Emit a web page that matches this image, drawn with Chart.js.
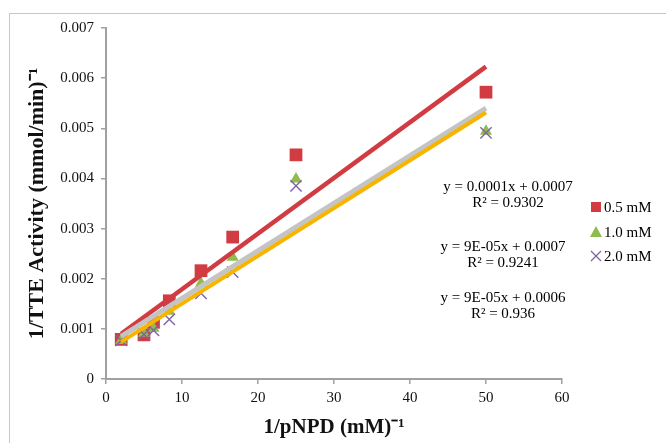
<!DOCTYPE html>
<html>
<head>
<meta charset="utf-8">
<script src="https://cdn.jsdelivr.net/npm/chart.js@4.4.0/dist/chart.umd.min.js"></script>
<style>
  html, body { margin: 0; padding: 0; background: #fff; }
  #wrap { position: relative; width: 666px; height: 443px; overflow: hidden; }
  #frame { position: absolute; left: 9px; top: 13px; width: 700px; height: 500px; border: 1px solid #c8c8c8; }
  #chart { position: absolute; left: 0; top: 0; }
</style>
</head>
<body>
<div id="wrap">
  <div id="frame"></div>
  <canvas id="chart" width="666" height="443"></canvas>
</div>
<script>
// data
var xValues = [2, 5, 6.25, 8.33, 12.5, 16.67, 25, 50];
var series05 = [0.00079, 0.00088, 0.00113, 0.00156, 0.00216, 0.00283, 0.00447, 0.00572];
var series10 = [0.00077, 0.00091, 0.00101, 0.00135, 0.00191, 0.00243, 0.00399, 0.00494];
var series20 = [0.00077, 0.00089, 0.00097, 0.00119, 0.00171, 0.00213, 0.00385, 0.00491];
var seriesNames = ['0.5 mM', '1.0 mM', '2.0 mM'];

// trendlines (as drawn in the picture)
var trendSlopes = [0.000111, 0.0000948, 0.0000953];
var trendIntercepts = [0.00068, 0.00066, 0.00055];
var trendRange = [2, 50];
var equations = ['y = 0.0001x + 0.0007', 'y = 9E-05x + 0.0007', 'y = 9E-05x + 0.0006'];
var rSquared = ['R² = 0.9302', 'R² = 0.9241', 'R² = 0.936'];

var xTicks = [0, 10, 20, 30, 40, 50, 60];
var yTicks = [0, 0.001, 0.002, 0.003, 0.004, 0.005, 0.006, 0.007];

var red = '#d13b42';
var green = '#8fbc4b';
var purple = '#7f63a5';
var gray = '#c4c4c4';
var yellow = '#f7b500';
var serif = '"Liberation Serif", "Times New Roman", serif';

function toPoints(ys) {
	return xValues.map(function(x, i){ return {x: x, y: ys[i]}; });
}
function trend(i) {
	return trendRange.map(function(x){ return {x: x, y: trendSlopes[i] * x + trendIntercepts[i]}; });
}

var labelPlugin = {
	id: 'labels',
	afterDraw: function(chart) {
		var ctx = chart.ctx;
		ctx.save();
		// equations
		ctx.fillStyle = '#000';
		ctx.font = '15px ' + serif;
		ctx.textAlign = 'center';
		ctx.textBaseline = 'middle';
		var eqY = [187, 247, 298];
		var eqX = [508, 503, 503];
		for (var i = 0; i < 3; i++) {
			ctx.fillText(equations[i], eqX[i], eqY[i]);
			ctx.fillText(rSquared[i], eqX[i], eqY[i] + 16);
		}
		// legend
		var lx = 596, ly = [207, 232, 256];
		ctx.fillStyle = red;
		ctx.fillRect(lx - 5, ly[0] - 5, 10, 10);
		ctx.fillStyle = green;
		ctx.beginPath();
		ctx.moveTo(lx, ly[1] - 6);
		ctx.lineTo(lx + 6, ly[1] + 5);
		ctx.lineTo(lx - 6, ly[1] + 5);
		ctx.closePath();
		ctx.fill();
		ctx.strokeStyle = purple;
		ctx.lineWidth = 1.3;
		ctx.beginPath();
		ctx.moveTo(lx - 5, ly[2] - 5); ctx.lineTo(lx + 5, ly[2] + 5);
		ctx.moveTo(lx + 5, ly[2] - 5); ctx.lineTo(lx - 5, ly[2] + 5);
		ctx.stroke();
		ctx.fillStyle = '#000';
		ctx.textAlign = 'left';
		for (var j = 0; j < 3; j++) {
			ctx.fillText(seriesNames[j], lx + 8, ly[j] + 1);
		}
		ctx.restore();
	}
};

var ctx = document.getElementById('chart');
var chart = new Chart(ctx, {
	type: 'scatter',
	data: {
		datasets: [
			{ label: 'trend 2.0', type: 'line', data: trend(2), borderColor: yellow, borderWidth: 4, pointRadius: 0, order: 0 },
			{ label: 'trend 1.0', type: 'line', data: trend(1), borderColor: gray, borderWidth: 5, pointRadius: 0, order: 1 },
			{ label: 'trend 0.5', type: 'line', data: trend(0), borderColor: red, borderWidth: 4.5, pointRadius: 0, order: 2 },
			{ label: seriesNames[2], data: toPoints(series20), pointStyle: 'crossRot', pointRadius: 8, borderColor: purple, borderWidth: 1.4, backgroundColor: purple, order: 3 },
			{ label: seriesNames[1], data: toPoints(series10), pointStyle: 'triangle', pointRadius: 7, borderColor: green, backgroundColor: green, borderWidth: 0, order: 4 },
			{ label: seriesNames[0], data: toPoints(series05), pointStyle: 'rect', pointRadius: 9, borderColor: red, backgroundColor: red, borderWidth: 0, order: 5 }
		]
	},
	options: {
		responsive: false,
		animation: false,
		layout: { padding: { top: 28, right: 104, left: 0, bottom: 0 } },
		plugins: {
			legend: { display: false },
			tooltip: { enabled: false }
		},
		scales: {
			x: {
				type: 'linear',
				min: 0, max: 60,
				afterBuildTicks: function(scale){ scale.ticks = xTicks.map(function(v){ return {value: v}; }); },
				afterFit: function(scale){ scale.height = 64; },
				border: { color: '#a0a0a0', width: 2 },
				grid: { drawOnChartArea: false, drawTicks: true, tickLength: 5, color: '#a0a0a0', lineWidth: 1.5 },
				ticks: { color: '#111', padding: 5, font: { family: serif, size: 15 } },
				title: {
					display: true, text: '1/pNPD (mM)⁻¹', color: '#111',
					font: { family: serif, size: 21, weight: 'bold' },
					padding: { top: 0, bottom: 3 }
				}
			},
			y: {
				type: 'linear',
				min: 0, max: 0.007,
				afterBuildTicks: function(scale){ scale.ticks = yTicks.map(function(v){ return {value: v}; }); },
				afterFit: function(scale){ scale.width = 106; },
				border: { color: '#a0a0a0', width: 2 },
				grid: { drawOnChartArea: false, drawTicks: true, tickLength: 5, color: '#a0a0a0', lineWidth: 1.5 },
				ticks: {
					color: '#111', padding: 7, font: { family: serif, size: 15 },
					callback: function(v){ return v === 0 ? '0' : v.toFixed(3); }
				},
				title: {
					display: true, text: '1/TTE Activity (mmol/min)⁻¹', color: '#111',
					font: { family: serif, size: 22, weight: 'bold' },
					padding: { top: 24, bottom: 0 }
				}
			}
		}
	},
	plugins: [labelPlugin]
});
</script>
</body>
</html>
